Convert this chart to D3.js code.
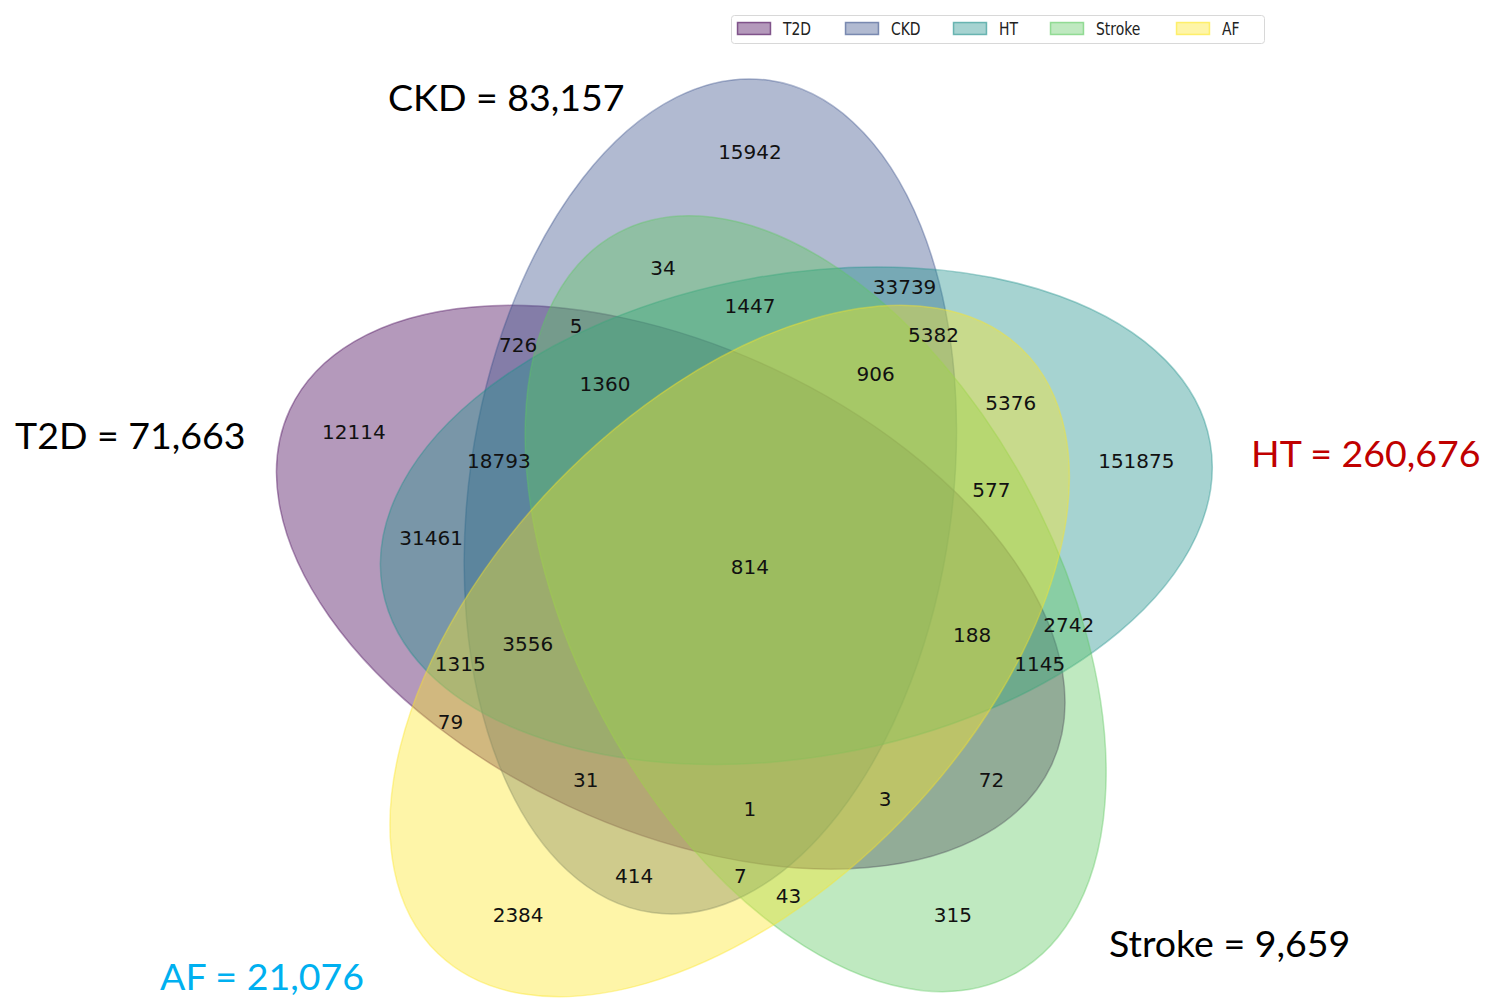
<!DOCTYPE html>
<html>
<head>
<meta charset="utf-8">
<script src="https://cdn.jsdelivr.net/npm/d3@7"></script>
<style>
  body { margin: 0; background: #fff; }
  svg { display: block; }
</style>
</head>
<body>
<script>
var W = 1489, H = 1002;

// sets, in drawing order
var setNames = ["T2D", "CKD", "HT", "Stroke", "AF"];
var setTotals = ["71,663", "83,157", "260,676", "9,659", "21,076"];
var setColors = ["#440154", "#3b528b", "#21918c", "#5ec962", "#fde725"];
var titleColors = ["#000000", "#000000", "#c00000", "#000000", "#00b0f0"];

// region keys (T2D CKD HT Stroke AF membership bits) and counts
var regionKeys = ["00001", "00010", "00011", "00100", "00101", "00110", "00111",
  "01000", "01001", "01010", "01011", "01100", "01101", "01110", "01111",
  "10000", "10001", "10010", "10011", "10100", "10101", "10110", "10111",
  "11000", "11001", "11010", "11011", "11100", "11101", "11110", "11111"];
var regionCounts = [2384, 315, 43, 151875, 5376, 2742, 577,
  15942, 414, 34, 7, 33739, 5382, 1447, 906,
  12114, 79, 72, 3, 31461, 1315, 1145, 188,
  726, 31, 5, 1, 18793, 3556, 1360, 814];

// five-ellipse layout in unit square (cx, cy, w, h, angle)
var ellipseLayout = [
  [0.428, 0.449, 0.87, 0.50, 155],
  [0.469, 0.543, 0.87, 0.50, 82],
  [0.558, 0.523, 0.87, 0.50, 10],
  [0.578, 0.432, 0.87, 0.50, 118],
  [0.489, 0.383, 0.87, 0.50, 46]
];
var labelLayout = {
  "00001": [0.27, 0.11], "00010": [0.72, 0.11], "00011": [0.55, 0.13],
  "00100": [0.91, 0.58], "00101": [0.78, 0.64], "00110": [0.84, 0.41],
  "00111": [0.76, 0.55], "01000": [0.51, 0.90], "01001": [0.39, 0.15],
  "01010": [0.42, 0.78], "01011": [0.50, 0.15], "01100": [0.67, 0.76],
  "01101": [0.70, 0.71], "01110": [0.51, 0.74], "01111": [0.64, 0.67],
  "10000": [0.10, 0.61], "10001": [0.20, 0.31], "10010": [0.76, 0.25],
  "10011": [0.65, 0.23], "10100": [0.18, 0.50], "10101": [0.21, 0.37],
  "10110": [0.81, 0.37], "10111": [0.74, 0.40], "11000": [0.27, 0.70],
  "11001": [0.34, 0.25], "11010": [0.33, 0.72], "11011": [0.51, 0.22],
  "11100": [0.25, 0.58], "11101": [0.28, 0.39], "11110": [0.36, 0.66],
  "11111": [0.51, 0.47]
};

// outer titles: x, baseline
var titlePos = [[15, 449], [388, 111], [1251, 467], [1109, 957], [160, 990]];

var svg = d3.select("body").append("svg")
    .attr("width", W)
    .attr("height", H);

var x = d3.scaleLinear().domain([0, 1]).range([257.3, 1223.3]);
var y = d3.scaleLinear().domain([0, 1]).range([1021, 55]);
var unit = x(1) - x(0);

// ellipses
svg.selectAll(".set")
    .data(ellipseLayout)
  .enter().append("ellipse")
    .attr("class", "set")
    .attr("transform", function(d) {
      return "translate(" + x(d[0]) + "," + y(d[1]) + ") rotate(" + (-d[4]) + ")";
    })
    .attr("rx", function(d) { return d[2] * unit / 2; })
    .attr("ry", function(d) { return d[3] * unit / 2; })
    .attr("fill", function(d, i) { return setColors[i]; })
    .attr("fill-opacity", 0.4)
    .attr("stroke", function(d, i) { return setColors[i]; })
    .attr("stroke-opacity", 0.4)
    .attr("stroke-width", 1.5);

// region counts
svg.selectAll(".count")
    .data(regionKeys)
  .enter().append("text")
    .attr("class", "count")
    .attr("x", function(k) { return x(labelLayout[k][0]); })
    .attr("y", function(k) { return y(labelLayout[k][1]); })
    .attr("dy", "0.36em")
    .attr("text-anchor", "middle")
    .style("font-family", "DejaVu Sans")
    .style("font-size", "20px")
    .style("fill", "#111")
    .text(function(k, i) { return regionCounts[i]; });

// set titles
svg.selectAll(".title")
    .data(setNames)
  .enter().append("text")
    .attr("class", "title")
    .attr("x", function(d, i) { return titlePos[i][0]; })
    .attr("y", function(d, i) { return titlePos[i][1]; })
    .style("font-family", "Lato")
    .style("font-size", "37.5px")
    .style("fill", function(d, i) { return titleColors[i]; })
    .text(function(d, i) { return d + " = " + setTotals[i]; });

// legend across the top
var legendX = [737, 845, 953, 1050, 1176];
var legend = svg.append("g");
legend.append("rect")
    .attr("x", 731.5).attr("y", 15.5)
    .attr("width", 533).attr("height", 28)
    .attr("rx", 3)
    .attr("fill", "#fff")
    .attr("stroke", "#d8d8d8");
var item = legend.selectAll(".item")
    .data(setNames)
  .enter().append("g")
    .attr("class", "item")
    .attr("transform", function(d, i) { return "translate(" + legendX[i] + ",22)"; });
item.append("rect")
    .attr("x", 0.5).attr("y", 0.5)
    .attr("width", 33).attr("height", 12)
    .attr("fill", function(d, i) { return setColors[i]; })
    .attr("fill-opacity", 0.4)
    .attr("stroke", function(d, i) { return setColors[i]; })
    .attr("stroke-opacity", 0.6)
    .attr("stroke-width", 1.5);
item.append("text")
    .attr("transform", "translate(46,13) scale(0.82,1)")
    .style("font-family", "DejaVu Sans")
    .style("font-size", "17px")
    .style("fill", "#222")
    .text(function(d) { return d; });
</script>
</body>
</html>
